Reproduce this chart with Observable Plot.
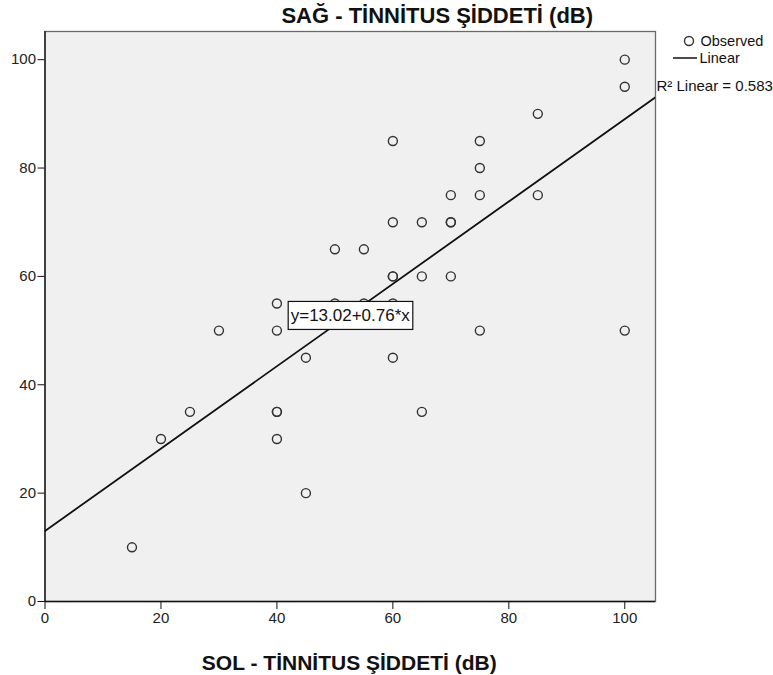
<!DOCTYPE html>
<html><head><meta charset="utf-8">
<script src="https://cdn.jsdelivr.net/npm/d3@7"></script>
<script src="https://cdn.jsdelivr.net/npm/@observablehq/plot@0.6"></script>
<style>
html,body{margin:0;padding:0;background:#fff;}
#chart svg{display:block;}
</style>
</head><body><div id="chart"></div>
<script>
// Data
const solX = [15,20,25,30,40,40,40,40,40,45,45,50,50,55,55,60,60,60,60,60,60,65,65,65,70,70,70,70,75,75,75,75,85,85,100,100,100];
const sagY = [10,30,35,50,55,50,35,35,30,45,20,65,55,65,55,85,70,60,60,55,45,70,60,35,75,70,70,60,85,80,75,50,90,75,100,95,50];
const xTicks = [0,20,40,60,80,100];
const yTicks = [0,20,40,60,80,100];
const fitIntercept = 13.02;
const fitSlope = 0.76;
const rSquared = 0.583;
const xTitle = "SOL - TİNNİTUS ŞİDDETİ (dB)";
const yTitle = "SAĞ - TİNNİTUS ŞİDDETİ (dB)";
const legendLabels = ["Observed", "Linear", "R² Linear = " + rSquared.toFixed(3)];
const equationLabel = "y=" + fitIntercept.toFixed(2) + "+" + fitSlope.toFixed(2) + "*x";

const xDomain = [0, 105.3];
const yDomain = [0, 105.2];

const points = solX.map((x, i) => ({x, y: sagY[i]}));
const fitLine = xDomain.map(x => ({x, y: fitIntercept + fitSlope * x}));

const font = "'Liberation Sans', Arial, Helvetica, sans-serif";

const chart = Plot.plot({
  width: 773,
  height: 675,
  marginLeft: 44.5,
  marginRight: 118,
  marginTop: 31,
  marginBottom: 74,
  style: {fontFamily: font, fontSize: "15px", color: "#222", background: "#fff", overflow: "visible"},
  x: {domain: xDomain},
  y: {domain: yDomain},
  marks: [
    Plot.frame({fill: "#f0f0f0", stroke: "#6a6a6a", strokeWidth: 1.3}),
    Plot.axisX({ticks: xTicks, tickSize: 8, tickPadding: 3, label: null, fontSize: 15, stroke: "#111"}),
    Plot.axisY({ticks: yTicks, tickSize: 7, tickPadding: 2, label: null, fontSize: 15, stroke: "#111"}),
    Plot.ruleX([0], {stroke: "#111", strokeWidth: 1.3}),
    Plot.ruleY([0], {stroke: "#111", strokeWidth: 1.3}),
    Plot.line(fitLine, {x: "x", y: "y", stroke: "#111", strokeWidth: 1.8, clip: true}),
    Plot.dot(points, {x: "x", y: "y", r: 4.5, stroke: "#333", strokeWidth: 1.4, fill: "none"}),
    Plot.text([equationLabel], {text: d => d, frameAnchor: "middle", lineAnchor: "middle", dy: -1, fontSize: 17, fill: "#111", className: "eqlabel"}),
    Plot.text([yTitle], {text: d => d, frameAnchor: "top", lineAnchor: "middle", dx: 87, dy: -16, fontSize: 22, fontWeight: "bold", fill: "#111"}),
    Plot.text([xTitle], {text: d => d, frameAnchor: "bottom", lineAnchor: "middle", dx: -1, dy: 62, fontSize: 21, fontWeight: "bold", fill: "#111"}),
    Plot.text([legendLabels[0]], {text: d => d, frameAnchor: "top-right", lineAnchor: "middle", textAnchor: "start", dx: 45, dy: 10, fontSize: 14.5, fill: "#111"}),
    Plot.text([legendLabels[1]], {text: d => d, frameAnchor: "top-right", lineAnchor: "middle", textAnchor: "start", dx: 44, dy: 27, fontSize: 14.5, fill: "#111"}),
    Plot.text([legendLabels[2]], {text: d => d, frameAnchor: "top-right", lineAnchor: "middle", textAnchor: "start", dx: 1, dy: 55, fontSize: 15, fill: "#111"})
  ]
});

document.getElementById("chart").appendChild(chart);

// Box around the equation label (same transform as the text)
const svg = d3.select(chart);
svg.selectAll("g.eqlabel text").each(function() {
  const b = this.getBBox();
  const t = this.getAttribute("transform");
  const r = d3.select(this.parentNode).insert("rect", () => this)
    .attr("x", b.x - 2.5).attr("y", b.y - 4.5)
    .attr("width", b.width + 5).attr("height", b.height + 9)
    .attr("fill", "#fff").attr("stroke", "#111").attr("stroke-width", 1.2);
  if (t) r.attr("transform", t);
});

// Legend symbols (circle and line) at the top right, outside the frame
const frameRight = 773 - 118, frameTop = 31;
const leg = svg.append("g");
leg.append("circle").attr("cx", frameRight + 34).attr("cy", frameTop + 10).attr("r", 4.5)
  .attr("fill", "none").attr("stroke", "#333").attr("stroke-width", 1.4);
leg.append("line").attr("x1", frameRight + 18).attr("x2", frameRight + 42)
  .attr("y1", frameTop + 27).attr("y2", frameTop + 27)
  .attr("stroke", "#111").attr("stroke-width", 1.5);
</script>
</body></html>
